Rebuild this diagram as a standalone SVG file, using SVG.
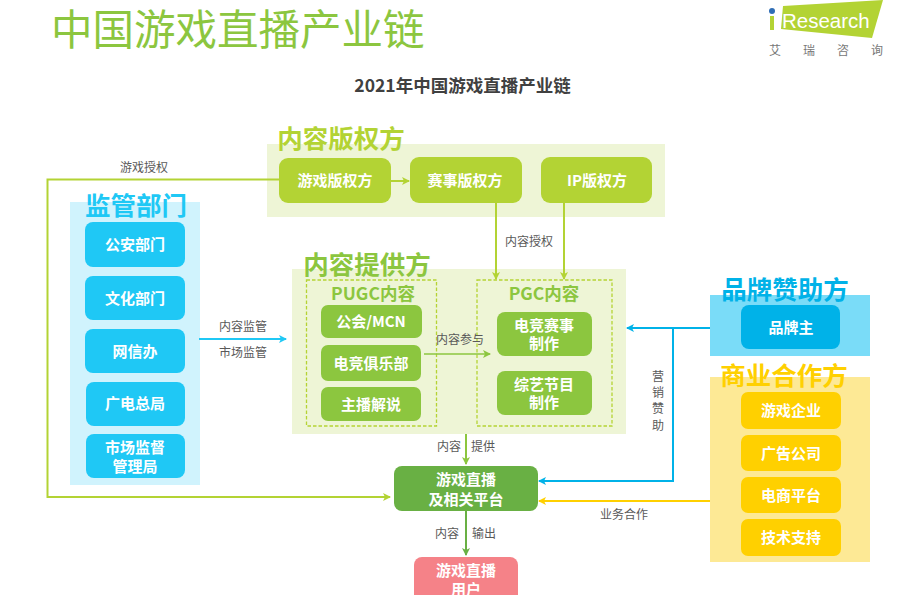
<svg xmlns="http://www.w3.org/2000/svg" width="913" height="595" viewBox="0 0 913 595">
<style>
text{font-family:"Noto Sans CJK SC","Noto Sans",sans-serif}
.n{font-size:15px;font-weight:700;fill:#fff;text-anchor:middle}
.h{font-size:25.5px;font-weight:700;text-anchor:middle}
.s{font-size:17.5px;font-weight:700;fill:#8cc63f;text-anchor:middle}
.l{font-size:12px;fill:#595959;text-anchor:middle}
.c{fill:none;stroke-width:2}
.d{fill:none;stroke:#b5d334;stroke-width:1.3;stroke-dasharray:3.5 2}
.lime{stroke:#b3d334}.lf{fill:#b3d334}
.leaf{stroke:#8cc63f}.gf{fill:#8cc63f}
.sky{stroke:#00b2e8}.sf{fill:#00b2e8}
.cy{stroke:#1fc8f5}.cf{fill:#1fc8f5}
.am{stroke:#ffd000}.af{fill:#ffd000}
</style>
<defs>
<marker id="aL" markerWidth="8" markerHeight="8" refX="7" refY="4" orient="auto" markerUnits="userSpaceOnUse"><path d="M0 0L8 4L0 8L2 4Z" fill="#b3d334"/></marker>
<marker id="aG" markerWidth="8" markerHeight="8" refX="7" refY="4" orient="auto" markerUnits="userSpaceOnUse"><path d="M0 0L8 4L0 8L2 4Z" fill="#8cc63f"/></marker>
<marker id="aD" markerWidth="8" markerHeight="8" refX="7" refY="4" orient="auto" markerUnits="userSpaceOnUse"><path d="M0 0L8 4L0 8L2 4Z" fill="#69b044"/></marker>
<marker id="aS" markerWidth="8" markerHeight="8" refX="7" refY="4" orient="auto" markerUnits="userSpaceOnUse"><path d="M0 0L8 4L0 8L2 4Z" fill="#00b2e8"/></marker>
<marker id="aC" markerWidth="8" markerHeight="8" refX="7" refY="4" orient="auto" markerUnits="userSpaceOnUse"><path d="M0 0L8 4L0 8L2 4Z" fill="#1fc8f5"/></marker>
<marker id="aA" markerWidth="8" markerHeight="8" refX="7" refY="4" orient="auto" markerUnits="userSpaceOnUse"><path d="M0 0L8 4L0 8L2 4Z" fill="#ffd000"/></marker>
</defs>
<rect width="913" height="595" fill="#fff"/>

<text x="51" y="45" font-size="41.5" fill="#8cc63f">中国游戏直播产业链</text>
<text x="462.500" y="92" font-size="17.500" font-weight="700" fill="#404040" text-anchor="middle">2021年中国游戏直播产业链</text>

<g id="logo">
<path d="M783 6L883 0L872 38L781 29Z" fill="#b3d334"/>
<rect x="770" y="16" width="4" height="14" fill="#b3d334"/>
<circle cx="772" cy="11" r="3" fill="#2f6db5"/>
<text x="782" y="28" font-size="20.500" fill="#fff" style="font-family:'Liberation Sans',sans-serif">Research</text>
<text x="769" y="55" font-size="12" fill="#777">艾</text>
<text x="803" y="55" font-size="12" fill="#777">瑞</text>
<text x="837" y="55" font-size="12" fill="#777">咨</text>
<text x="871" y="55" font-size="12" fill="#777">询</text>
</g>

<g id="panels">
<rect x="267" y="144" width="398" height="73" fill="#eef5d6"/>
<rect x="292" y="269" width="334" height="165" fill="#eef5d6"/>
<rect x="70" y="202" width="130" height="283" fill="#d0f3fd"/>
<rect x="710" y="295" width="160" height="61" fill="#7adcf8"/>
<rect x="710" y="377" width="160" height="185" fill="#fde995"/>
<rect class="d" x="306.500" y="280" width="130" height="146"/>
<rect class="d" x="477" y="280" width="135" height="146"/>
<text class="h lf" x="341" y="148" style="stroke:none">内容版权方</text>
<text class="h gf" x="367" y="274">内容提供方</text>
<text class="h cf" x="136" y="215">监管部门</text>
<text class="h sf" x="785" y="299">品牌赞助方</text>
<text class="h af" x="784" y="385">商业合作方</text>
<text class="s" x="373" y="300">PUGC内容</text>
<text class="s" x="544" y="300">PGC内容</text>
</g>

<g id="connectors">
<path class="c lime" d="M279 179.500H47.500V497H390" marker-end="url(#aL)"/>
<path class="c lime" d="M391 181H409" marker-end="url(#aL)"/>
<path class="c lime" d="M496 203V279" marker-end="url(#aL)"/>
<path class="c lime" d="M564 203V279" marker-end="url(#aL)"/>
<path class="c leaf" style="stroke-width:1.500" d="M424 354H490" marker-end="url(#aG)"/>
<path class="c leaf" d="M466 434V464" marker-end="url(#aG)"/>
<path class="c" style="stroke:#69b044" d="M466 511V555" marker-end="url(#aD)"/>
<path class="c cy" d="M199 339H286" marker-end="url(#aC)"/>
<path class="c sky" d="M710 328H627" marker-end="url(#aS)"/>
<path class="c sky" d="M673 328V481H539" marker-end="url(#aS)"/>
<path class="c am" d="M710 501H539" marker-end="url(#aA)"/>
</g>

<g id="labels">
<text class="l" x="144" y="172">游戏授权</text>
<text class="l" x="529" y="246">内容授权</text>
<text class="l" x="243" y="331">内容监管</text>
<text class="l" x="243" y="357">市场监管</text>
<text class="l" x="460" y="344">内容参与</text>
<text class="l" x="449" y="451">内容</text>
<text class="l" x="483" y="451">提供</text>
<text class="l" x="447" y="538">内容</text>
<text class="l" x="484" y="538">输出</text>
<text class="l" x="624" y="519">业务合作</text>
<text class="l" x="658" y="381">营</text>
<text class="l" x="658" y="397">销</text>
<text class="l" x="658" y="413">赞</text>
<text class="l" x="658" y="430">助</text>
</g>

<g id="rights-game"><rect class="lf" x="279" y="158" width="112" height="45" rx="9"/><text class="n" x="335" y="186">游戏版权方</text></g>
<g id="rights-event"><rect class="lf" x="410" y="157" width="112" height="46" rx="9"/><text class="n" x="465" y="186">赛事版权方</text></g>
<g id="rights-ip"><rect class="lf" x="541" y="157" width="111" height="46" rx="9"/><text class="n" x="597" y="186">IP版权方</text></g>

<g id="reg-police"><rect class="cf" x="85" y="222" width="100" height="45" rx="8"/><text class="n" x="135" y="250">公安部门</text></g>
<g id="reg-culture"><rect class="cf" x="85" y="276" width="100" height="44" rx="8"/><text class="n" x="135" y="304">文化部门</text></g>
<g id="reg-cac"><rect class="cf" x="85" y="329" width="100" height="44" rx="8"/><text class="n" x="135" y="357">网信办</text></g>
<g id="reg-radio"><rect class="cf" x="86" y="382" width="99" height="44" rx="8"/><text class="n" x="135" y="409">广电总局</text></g>
<g id="reg-market"><rect class="cf" x="86" y="434" width="99" height="44" rx="8"/><text class="n" x="135" y="453">市场监督</text><text class="n" x="135" y="472">管理局</text></g>

<g id="pugc-mcn"><rect class="gf" x="321" y="305" width="101" height="33" rx="7"/><text class="n" x="371" y="327">公会/MCN</text></g>
<g id="pugc-club"><rect class="gf" x="321" y="345" width="100" height="36" rx="7"/><text class="n" x="371" y="369">电竞俱乐部</text></g>
<g id="pugc-host"><rect class="gf" x="321" y="387" width="100" height="34" rx="7"/><text class="n" x="371" y="410">主播解说</text></g>
<g id="pgc-esports"><rect class="gf" x="497" y="312" width="95" height="44" rx="8"/><text class="n" x="544" y="331">电竞赛事</text><text class="n" x="544" y="349">制作</text></g>
<g id="pgc-variety"><rect class="gf" x="497" y="371" width="95" height="44" rx="8"/><text class="n" x="544" y="390">综艺节目</text><text class="n" x="544" y="408">制作</text></g>

<g id="platform"><rect x="394" y="466" width="144" height="45" rx="8" fill="#69b044"/><text class="n" x="466" y="485">游戏直播</text><text class="n" x="466" y="505">及相关平台</text></g>
<g id="users"><rect x="414" y="557" width="104" height="50" rx="8" fill="#f58288"/><text class="n" x="466" y="576">游戏直播</text><text class="n" x="466" y="595">用户</text></g>

<g id="brand-owner"><rect class="sf" x="741" y="305" width="99" height="44" rx="8"/><text class="n" x="791" y="333">品牌主</text></g>
<g id="biz-game"><rect class="af" x="741" y="392" width="100" height="37" rx="7"/><text class="n" x="791" y="416">游戏企业</text></g>
<g id="biz-ads"><rect class="af" x="741" y="435" width="100" height="36" rx="7"/><text class="n" x="791" y="459">广告公司</text></g>
<g id="biz-ecom"><rect class="af" x="741" y="477" width="100" height="36" rx="7"/><text class="n" x="791" y="501">电商平台</text></g>
<g id="biz-tech"><rect class="af" x="741" y="519" width="100" height="37" rx="7"/><text class="n" x="791" y="543">技术支持</text></g>
</svg>
